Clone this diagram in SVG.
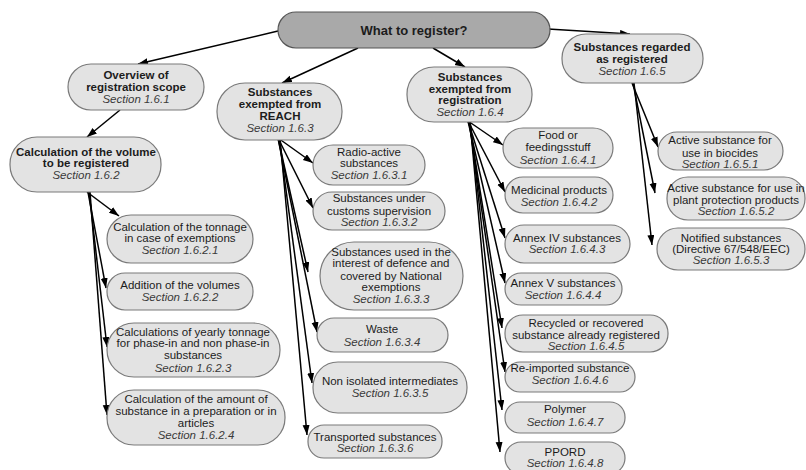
<svg xmlns="http://www.w3.org/2000/svg" width="806" height="470" viewBox="0 0 806 470">
<style>
.n{fill:#e3e3e3;stroke:#7a7a7a;stroke-width:1.2}
.r{fill:#a9a9a9;stroke:#555;stroke-width:1.2}
text{font-family:"Liberation Sans",Arial,sans-serif;font-size:11.5px;fill:#1c1c1c;text-anchor:middle}
.b{font-weight:bold}
.s{font-style:italic;fill:#3a3a3a}
.e line{stroke:#000;stroke-width:1.5;marker-end:url(#a)}
</style>
<defs>
<marker id="a" markerUnits="userSpaceOnUse" markerWidth="11" markerHeight="8" refX="10" refY="3.5" orient="auto"><path d="M0,0 L10,3.5 L0,7 z" fill="#000"/></marker>
</defs>
<rect width="806" height="470" fill="#fff"/>
<g class="e">
<line x1="278" y1="31" x2="138" y2="64"/>
<line x1="358" y1="48" x2="282" y2="83"/>
<line x1="433" y1="48" x2="465" y2="67"/>
<line x1="548" y1="29" x2="630" y2="34"/>
<line x1="120" y1="110" x2="87" y2="137"/>
<line x1="87" y1="192" x2="119" y2="216"/>
<line x1="88" y1="192" x2="106" y2="288"/>
<line x1="89" y1="192" x2="107" y2="347"/>
<line x1="90" y1="192" x2="107" y2="415"/>
<line x1="278" y1="138" x2="313" y2="163"/>
<line x1="278" y1="138" x2="313" y2="208"/>
<line x1="278" y1="138" x2="308" y2="272"/>
<line x1="278" y1="138" x2="317" y2="332"/>
<line x1="279" y1="138" x2="312" y2="383"/>
<line x1="280" y1="138" x2="307" y2="435"/>
<line x1="468" y1="121" x2="503" y2="145"/>
<line x1="468" y1="121" x2="505" y2="192"/>
<line x1="468" y1="121" x2="505" y2="238"/>
<line x1="468" y1="121" x2="505" y2="283"/>
<line x1="469" y1="121" x2="502" y2="328"/>
<line x1="469" y1="121" x2="505" y2="372"/>
<line x1="470" y1="121" x2="502" y2="410"/>
<line x1="470" y1="121" x2="500" y2="452"/>
<line x1="632" y1="83" x2="658" y2="147"/>
<line x1="633" y1="83" x2="655" y2="193"/>
<line x1="634" y1="83" x2="652" y2="245"/>
</g>
<g id="root"><rect class="r" x="278" y="12" width="272" height="36" rx="18"/><text class="b" x="414" y="35" style="font-size:13px">What to register?</text></g>
<g id="n161"><rect class="n" x="68" y="64" width="136" height="46" rx="23"/><text class="b" x="136" y="79">Overview of</text><text class="b" x="136" y="91">registration scope</text><text class="s" x="136" y="103">Section 1.6.1</text></g>
<g id="n163"><rect class="n" x="217" y="83" width="125" height="57" rx="28"/><text class="b" x="280" y="96">Substances</text><text class="b" x="280" y="108">exempted from</text><text class="b" x="280" y="120">REACH</text><text class="s" x="280" y="132">Section 1.6.3</text></g>
<g id="n164"><rect class="n" x="407" y="67" width="125" height="55" rx="27"/><text class="b" x="470" y="81">Substances</text><text class="b" x="470" y="93">exempted from</text><text class="b" x="470" y="104">registration</text><text class="s" x="470" y="116">Section 1.6.4</text></g>
<g id="n165"><rect class="n" x="562" y="34" width="141" height="49" rx="24"/><text class="b" x="632" y="51">Substances regarded</text><text class="b" x="632" y="63">as registered</text><text class="s" x="632" y="75">Section 1.6.5</text></g>
<g id="n162"><rect class="n" x="10" y="137" width="151" height="55" rx="27"/><text class="b" x="86" y="156">Calculation of the volume</text><text class="b" x="86" y="167">to be registered</text><text class="s" x="86" y="179">Section 1.6.2</text></g>
<g id="n1621"><rect class="n" x="107" y="215" width="146" height="48" rx="24"/><text x="180" y="231">Calculation of the tonnage</text><text x="180" y="242">in case of exemptions</text><text class="s" x="180" y="254">Section 1.6.2.1</text></g>
<g id="n1622"><rect class="n" x="107" y="273" width="146" height="37" rx="18"/><text x="180" y="289">Addition of the volumes</text><text class="s" x="180" y="301">Section 1.6.2.2</text></g>
<g id="n1623"><rect class="n" x="107" y="323" width="173" height="54" rx="27"/><text x="193" y="336">Calculations of yearly tonnage</text><text x="193" y="347">for phase-in and non phase-in</text><text x="193" y="359">substances</text><text class="s" x="193" y="372">Section 1.6.2.3</text></g>
<g id="n1624"><rect class="n" x="107" y="390" width="178" height="55" rx="27"/><text x="196" y="403">Calculation of the amount of</text><text x="196" y="415">substance in a preparation or in</text><text x="196" y="427">articles</text><text class="s" x="196" y="439">Section 1.6.2.4</text></g>
<g id="n1631"><rect class="n" x="313" y="145" width="112" height="40" rx="20"/><text x="369" y="156">Radio-active</text><text x="369" y="167">substances</text><text class="s" x="369" y="179">Section 1.6.3.1</text></g>
<g id="n1632"><rect class="n" x="313" y="192" width="132" height="38" rx="19"/><text x="379" y="202">Substances under</text><text x="379" y="215">customs supervision</text><text class="s" x="379" y="226">Section 1.6.3.2</text></g>
<g id="n1633"><rect class="n" x="320" y="242" width="143" height="68" rx="34"/><text x="391" y="256">Substances used in the</text><text x="391" y="267">interest of defence and</text><text x="391" y="280">covered by National</text><text x="391" y="291">exemptions</text><text class="s" x="391" y="303">Section 1.6.3.3</text></g>
<g id="n1634"><rect class="n" x="317" y="318" width="131" height="34" rx="17"/><text x="382" y="333">Waste</text><text class="s" x="382" y="346">Section 1.6.3.4</text></g>
<g id="n1635"><rect class="n" x="313" y="362" width="154" height="51" rx="25"/><text x="390" y="385">Non isolated intermediates</text><text class="s" x="390" y="397">Section 1.6.3.5</text></g>
<g id="n1636"><rect class="n" x="308" y="425" width="134" height="33" rx="16"/><text x="375" y="441">Transported substances</text><text class="s" x="375" y="452">Section 1.6.3.6</text></g>
<g id="n1641"><rect class="n" x="503" y="128" width="110" height="40" rx="20"/><text x="558" y="139">Food or</text><text x="558" y="151">feedingsstuff</text><text class="s" x="558" y="164">Section 1.6.4.1</text></g>
<g id="n1642"><rect class="n" x="505" y="177" width="108" height="36" rx="18"/><text x="559" y="194">Medicinal products</text><text class="s" x="559" y="206">Section 1.6.4.2</text></g>
<g id="n1643"><rect class="n" x="505" y="225" width="125" height="38" rx="19"/><text x="567" y="242">Annex IV substances</text><text class="s" x="567" y="253">Section 1.6.4.3</text></g>
<g id="n1644"><rect class="n" x="505" y="273" width="117" height="32" rx="16"/><text x="563" y="287">Annex V substances</text><text class="s" x="563" y="299">Section 1.6.4.4</text></g>
<g id="n1645"><rect class="n" x="505" y="315" width="163" height="37" rx="18"/><text x="586" y="327">Recycled or recovered</text><text x="586" y="339">substance already registered</text><text class="s" x="586" y="350">Section 1.6.4.5</text></g>
<g id="n1646"><rect class="n" x="505" y="362" width="130" height="30" rx="15"/><text x="570" y="372">Re-imported substance</text><text class="s" x="570" y="384">Section 1.6.4.6</text></g>
<g id="n1647"><rect class="n" x="505" y="402" width="120" height="31" rx="15"/><text x="565" y="413">Polymer</text><text class="s" x="565" y="426">Section 1.6.4.7</text></g>
<g id="n1648"><rect class="n" x="505" y="442" width="120" height="32" rx="16"/><text x="565" y="456">PPORD</text><text class="s" x="565" y="467">Section 1.6.4.8</text></g>
<g id="n1651"><rect class="n" x="658" y="132" width="125" height="38" rx="19"/><text x="720" y="144">Active substance for</text><text x="720" y="157">use in biocides</text><text class="s" x="720" y="168">Section 1.6.5.1</text></g>
<g id="n1652"><rect class="n" x="667" y="177" width="138" height="43" rx="21"/><text x="736" y="192">Active substance for use in</text><text x="736" y="204">plant protection products</text><text class="s" x="736" y="215">Section 1.6.5.2</text></g>
<g id="n1653"><rect class="n" x="657" y="228" width="148" height="42" rx="21"/><text x="731" y="242">Notified substances</text><text x="731" y="253">(Directive 67/548/EEC)</text><text class="s" x="731" y="264">Section 1.6.5.3</text></g>
</svg>
